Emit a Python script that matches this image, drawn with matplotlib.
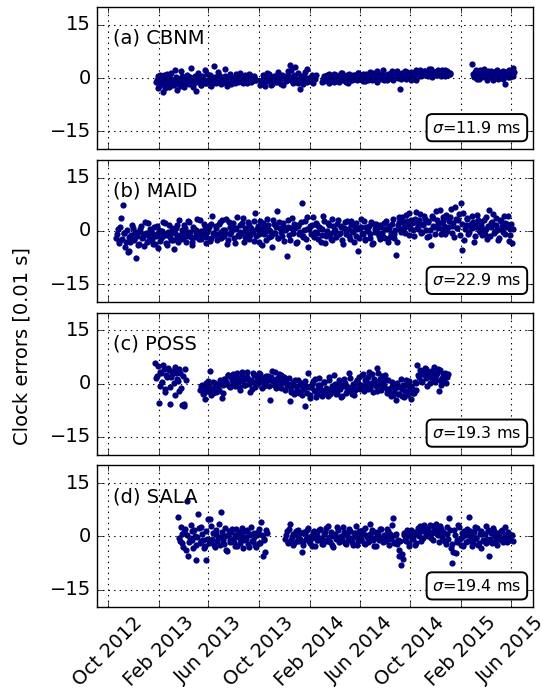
import numpy as np
import matplotlib
matplotlib.use('Agg')
import matplotlib.pyplot as plt
import matplotlib.dates as mdates

# sample spacing of the plotted clock-error points (days);
# the second set of each station sits half a step later
step_days = 4
half_step = 2

stations = ["(a) CBNM", "(b) MAID", "(c) POSS", "(d) SALA"]
sigmas = ["11.9", "22.9", "19.3", "19.4"]

# CBNM, four segments
cbnm_starts = ["2013-01-25", "2013-10-04", "2014-03-02", "2015-02-27"]
cbnm_vals = [
    [-1.2, 0.5, -2.1, -0.8, -3.9, 0.9, -1.5, -0.3, -2.6, 1.4, -0.9, -1.8, 0.2, -3.2, -0.6, 1.9, -1.1, -2.4, 0.4, -0.7,
     -1.6, 2.8, -0.2, -1.3, -3.6, 0.1, -0.9, -2.0, 0.7, -0.4, -1.4, 1.1, -0.8, -1.9, 0.3, 3.3, -0.5, -1.2, 0.8, -1.7,
     -0.3, -1.0, 0.6, -2.2, -0.6, 1.2, -0.9, -0.1, -1.5, 0.4, -0.7, 1.6, -1.1, -0.2, 0.5, -1.3, -0.4, 0.9, -0.8, 0.2, -0.6],
    [-1.8, -0.4, 0.6, -2.3, 1.5, -0.9, -0.2, -1.6, 0.3, -0.7, 1.0, -1.2, -0.1, 0.8, -1.9, 0.4, -0.5, 2.1, 3.6, -0.8,
     0.2, 3.1, -0.3, -1.4, -3.0, 0.7, -0.6, 1.8, -1.1, 0.1, -0.4, 0.9, -1.3, -0.2],
    [-1.1, 0.6, -0.5, 0.9, -1.4, 0.2, -0.3, 1.3, -0.8, 0.4, -1.0, 0.1, 1.6, -0.6, -0.2, 0.8, -1.3, 0.3, -0.4, 0.5,
     0.9, -0.6, 1.4, 0.2, -0.3, 1.1, -0.9, 0.6, 0.0, 1.7, -0.4, 0.8, 0.3, -1.2, 1.0, 0.5, -0.1, 2.2, 0.4, -0.5,
     1.2, 0.3, 1.9, -0.4, 0.9, 1.5, 0.1, -3.1, 1.3, 0.6, 2.0, -0.2, 1.1, 0.7, 1.8, 0.2, 1.4, -0.6, 1.0, 2.3,
     1.5, 0.8, 2.1, 1.2, 0.6, 1.9, 2.6, 1.1, 1.7, 0.9, 2.2, 1.4, 0.7, 1.8, 2.4, 1.3, 1.0, 1.6],
    [4.0, 0.6, 1.8, -0.3, 1.2, 2.3, 0.4, 1.5, 0.9, -0.5, 2.0, 1.1, 0.2, 1.7, 0.8, 2.4, -0.2, 1.3, 0.5, 1.9,
     -1.6, 1.0, 2.1, 0.3, 1.4, 3.0],
]
cbnm_vals_b = [
    [-0.4, -2.7, 0.8, -1.6, -0.2, -2.9, 1.3, -1.0, 0.1, -1.9, -0.6, 2.2, -1.4, -0.3, -2.2, 0.6, -0.8, -1.7, 1.0, -1.2,
     0.3, -0.9, -2.5, 0.5, -1.1, 1.5, -0.4, -1.8, -0.1, 2.4, -1.3, -0.5, 0.9, -2.1, -0.7, 0.2, -1.5, 1.8, -0.6, 0.4,
     -1.2, 2.5, -0.2, -0.9, 0.7, -1.6, 0.1, -0.5, 1.3, -1.0, -0.3, 0.6, -1.4, 0.9, -0.1, -0.7, 1.1, -1.1, 0.0, 0.5, -0.4],
    [-0.7, 0.9, -1.5, 0.1, -0.6, 1.3, -2.0, -0.3, 0.5, -1.1, 1.7, -0.4, -1.6, 0.6, 0.0, -0.9, 1.2, -0.2, 2.4, -1.3,
     0.8, -0.5, 1.5, -0.8, 0.3, -1.7, 0.7, -0.1, 2.6, -0.6, 0.4, -1.0, 0.2, 0.9],
    [-0.3, -0.9, 0.7, -0.1, 1.1, -0.7, 0.4, -1.2, 0.9, -0.4, 0.2, 1.4, -0.6, 0.5, -1.0, 0.1, 1.2, -0.5, 0.8, -0.2,
     0.4, 1.6, -0.2, 0.7, -0.8, 0.3, 1.3, -0.5, 0.9, 0.1, 1.5, -0.3, 0.6, 2.0, -0.1, 0.8, 1.2, -0.6, 0.5, 1.0,
     0.7, 1.6, -0.1, 1.1, 0.4, 2.1, 0.8, -0.3, 1.4, 0.2, 1.0, 1.7, 0.5, -0.4, 1.3, 0.9, 2.2, 0.3, 1.5, 0.7,
     1.2, 2.0, 0.9, 1.6, 2.5, 1.0, 0.4, 1.8, 1.3, 2.1, 0.8, 1.5, 2.3, 1.1, 0.6, 1.9, 1.4, 1.2],
    [1.3, 0.2, 2.2, 0.8, -0.1, 1.6, 1.0, 2.6, 0.3, 1.4, 0.7, 1.9, -0.4, 1.2, 2.0, 0.5, 1.1, 1.8, -0.2, 0.9,
     1.5, 0.4, 2.3, 1.0, 0.6, 1.7],
]

# MAID, one continuous segment
maid_starts = ["2012-10-21"]
maid_vals = [[
    -1.9, 0.4, -2.8, 3.6, 7.4, -0.7, -3.1, -6.0, -5.8, -1.2, 0.9, -2.4, -7.5, -0.3, -3.6, 1.5, -1.8, -4.2, -0.6, 2.1,
    -2.5, -0.1, -3.8, 1.2, -1.4, -4.9, 0.3, -2.0, 2.6, -0.8, -3.3, -1.1, 1.8, -2.7, -0.4, -5.1, 0.7, -1.6, 3.0, -2.2,
    -0.9, 1.6, -3.0, -0.2, 2.4, -1.7, -4.1, 0.5, -0.6, 3.3, -2.3, 0.1, -1.0, 2.0, -3.5, -0.3, 1.1, -1.9, 4.2, -0.7,
    0.8, -2.6, 1.9, -0.4, 3.1, -1.3, 0.2, -3.7, 2.5, -0.9, 1.3, -2.0, 0.6, 4.0, -1.5, -0.2, 2.2, -3.2, 0.9, -0.6,
    1.7, -1.1, 0.3, -2.8, 5.1, 0.6, -0.8, 2.7, -3.9, 1.0, -0.3, 3.4, -1.6, 0.1, -4.4, 2.0, -0.5, 5.5, -2.1, 0.8,
    -1.4, 2.3, 0.2, -7.0, 1.1, -2.5, 3.7, -0.6, 0.9, -3.1, 1.6, -0.2, 7.8, -1.8, 2.8, 0.4, -4.6, 1.3, -0.9, 3.9,
    -0.4, 1.8, -2.3, 0.7, -1.2, 4.3, -3.4, 0.1, 2.1, -0.8, -2.6, 1.4, 0.3, -1.7, 3.2, -0.5, 1.0, -3.8, 2.4, -1.0,
    0.6, -2.2, 2.9, -0.3, 1.5, -1.4, -5.7, 0.8, 3.5, -0.9, -2.7, 1.2, 0.0, -1.9, 2.6, -3.3, 0.5, 1.9, -0.7, -2.4,
    1.1, -1.6, 0.4, 2.7, -3.0, 0.9, -0.5, 3.3, -2.1, -6.8, 1.8, 3.9, -0.2, 2.5, 0.7, 4.6, 1.3, -1.1, 3.0, 0.2,
    2.4, 5.2, 0.6, 3.1, -0.7, 1.9, 4.1, 0.3, 2.8, -1.4, -4.0, 3.6, 1.2, 5.7, 0.8, 2.2, -0.9, 3.9, 1.5, 4.4,
    0.1, 2.9, 6.1, 1.3, -1.8, 3.4, 0.7, 4.8, 8.0, -5.4, -2.6, 1.6, 3.7, -0.4, 2.0, 0.9, -3.0, 2.6, 4.5, 0.3,
    1.8, -1.2, 3.0, 0.5, -2.3, 6.0, 1.1, 2.4, -0.6, 3.6, 0.2, -1.9, 2.7, 1.4, 4.3, -0.8, 1.9, -2.8, 0.6, -3.5,
]]
maid_vals_b = [[
    -0.8, -3.4, 1.1, -2.2, -0.5, -4.6, 0.2, -1.7, -3.0, 1.8, -2.6, -0.3, -1.5, -4.0, 0.6, -2.0, -0.9, 2.4, -3.1, -1.2,
    0.5, -2.3, -1.0, -3.6, 1.4, -0.6, -2.8, 0.1, -1.4, 2.2, -3.9, -0.2, -1.8, 0.9, -2.5, -0.7, 1.6, -3.2, -1.1, 0.3,
    -2.1, 0.8, -1.3, 2.7, -0.4, -3.0, 1.2, -1.8, 0.3, -0.9, 3.1, -2.4, -0.1, 1.5, -1.6, 0.6, -2.9, 2.0, -0.5, -1.2,
    1.4, -0.8, 2.6, -1.9, 0.3, -0.5, 3.4, -2.7, 1.0, -0.2, 2.1, -3.3, 0.7, -1.2, 1.8, -0.6, 3.7, -1.6, 0.1, 2.4,
    -2.2, 0.9, -0.4, 2.9, -1.5, 1.3, -3.0, 0.4, 2.2, -0.9, -2.5, 1.7, 0.2, -1.3, 3.2, -0.7, 1.0, -2.0, 2.6, -0.3,
    1.2, -2.8, 0.5, 3.0, -1.1, 0.8, -0.5, 2.0, -3.5, 1.5, -0.8, 2.6, -1.4, 0.3, -2.2, 3.9, 0.6, -0.9, 1.8, -1.7,
    2.3, -0.6, 1.1, -3.0, 0.4, 2.7, -1.5, -0.2, 1.6, -2.4, 3.3, 0.0, -1.1, 2.0, -0.8, 1.3, -2.7, 0.7, -0.4, 2.9,
    -1.3, 1.8, -0.1, -3.1, 2.2, 0.5, -1.9, 1.0, -0.6, 2.8, -2.3, 0.3, 1.4, -1.0, -3.6, 2.0, -0.3, 0.9, -1.5, 1.6,
    -0.5, 2.3, -2.0, 0.6, 1.4, -1.7, 2.0, -0.9, 0.3, -3.2, 2.6, 0.4, 3.8, 1.1, -0.6, 2.9, 5.0, 0.7, 2.2, -1.3,
    3.5, 0.9, 2.0, 4.9, -0.3, 1.6, 3.3, -1.8, 2.5, 0.2, 4.2, 1.4, -0.8, 3.0, 1.9, 5.9, 0.5, 2.7, -1.0, 3.8,
    1.1, 4.0, -0.5, 2.3, 6.8, 0.8, 3.1, -1.1, 2.0, 5.1, 0.4, 3.3, -0.9, 1.5, 4.1, 2.5, -1.4, 1.0, 3.2, -0.2,
    2.5, 0.4, -0.8, 3.8, 1.3, -1.5, 2.1, 4.8, 0.0, 1.7, -2.6, 3.1, 0.6, -0.4, 2.3, 1.0, 4.1, -1.1, 2.0, 0.5,
]]

# POSS, two segments
poss_starts = ["2013-01-24", "2013-05-12"]
poss_vals = [
    [5.8, 2.1, -5.4, 3.4, 0.6, 4.2, -1.5, 1.8, 3.9, -5.7, 2.6, 0.2, 4.6, 1.3, -2.0, 3.1, -6.1, -5.6, 4.0],
    [-1.8, -0.4, -2.5, -4.3, -0.9, 0.8, 3.5, -1.6, -2.7, 0.2, -1.1, -2.2, 1.1, -4.0, -0.5, 1.4, -0.2, 2.3, -1.0, 0.9,
     2.6, -0.6, 1.7, 0.3, -1.8, 3.4, 0.8, -0.3, 2.0, 1.2, -2.4, 0.5, 3.0, -0.9, 1.5, 0.1, 2.8, -1.3, 0.7, 1.9,
     -0.2, 2.2, -4.5, 1.0, 0.4, 3.3, -1.1, 1.6, -0.5, 2.5, 0.6, -1.7, 1.3, -0.1, -5.0, -1.9, 0.5, -2.6, -0.8, 1.1,
     -2.3, 0.2, -1.4, -6.4, -0.6, 2.9, -3.1, -1.0, 0.7, -2.0, -3.8, -0.3, 1.6, -1.7, -2.8, 0.4, -1.2, -3.5, 0.9, -2.2,
     -0.7, 2.4, -2.9, -1.3, 0.1, -3.9, -0.4, 1.2, -2.5, -1.0, 3.0, -1.8, -0.2, -3.3, 0.6, -1.1, 1.9, -0.5, 2.7, -2.0,
     0.8, -1.5, 3.3, 0.3, -2.4, 1.4, -0.8, 4.4, 0.0, -1.9, 2.1, -0.6, 1.0, -2.7, -1.4, -3.5, 0.4, -2.3, -4.5, -0.9,
     -2.8, 1.2, -1.6, -3.9, -0.5, -2.2, 0.7, -4.2, -1.1, -2.6, 0.3, 5.3, 1.8, 3.4, 0.6, 2.7, 4.1, -0.8, 2.2, 3.6,
     1.3, 4.6, 0.9, 2.9, -2.2, 3.8, 1.7, 0.4, 3.1, 2.0],
]
poss_vals_b = [
    [1.6, 4.9, -0.6, 3.0, 5.2, -2.3, 2.4, 4.4, -0.9, 1.9, 3.6, -3.1, 2.9, 0.8, 4.1, -1.2, 2.2, -6.3, 1.0],
    [-0.6, -2.9, -1.4, 0.3, -2.0, -0.8, -3.1, 0.6, -1.2, -2.4, -0.3, -1.7, 0.8, -2.6, 1.2, 0.4, 2.5, -0.7, 1.8, -0.2,
     1.4, 0.2, 2.9, -1.0, 0.9, 2.1, -0.4, 1.7, 3.2, 0.0, 1.1, -1.5, 2.4, 0.6, -0.2, 3.0, 1.3, 0.4, -0.8, 2.2,
     0.9, -0.7, 1.8, 3.6, -0.3, 1.2, 0.1, 2.7, -1.2, 0.8, 2.0, 0.3, -0.6, 1.5, -2.4, -0.4, -3.0, 0.9, -1.8, -2.7,
     -0.5, -3.3, -1.6, 0.8, -2.5, -0.9, -4.1, -0.1, -1.9, 1.4, -2.8, -1.1, -0.4, -3.6, 0.5, -2.2, -1.4, 2.0, -3.0, -0.7,
     -1.9, -0.2, -2.6, 0.9, -1.5, -3.4, -0.8, 0.3, -2.1, -1.2, 1.6, -2.9, -0.6, -1.7, 1.1, 0.3, -1.5, 2.4, -0.8, 0.9,
     -0.4, 1.9, -1.1, 2.7, -0.2, 0.6, -2.0, 3.1, 1.2, -0.9, 0.4, 2.3, -1.6, 0.9, -2.5, -0.8, -3.2, -1.3, 0.2, -2.9,
     -1.0, -3.6, -0.3, -2.0, 1.0, -3.1, -1.4, -0.6, -2.7, 0.5, -1.8, 2.4, 3.9, 0.8, 2.6, 4.4, 1.5, 3.0, 0.2, 2.1,
     3.3, 0.6, 2.5, 4.0, 1.1, -0.4, 2.8, 1.9, 0.1, 2.6],
]

# SALA, two segments
sala_starts = ["2013-03-20", "2013-12-03"]
sala_vals = [
    [5.5, -1.2, 0.8, -2.9, 2.1, 10.0, -5.4, -0.5, 1.6, -3.4, 0.2, -6.6, 6.3, -1.8, 2.7, -0.9, -2.6, -6.6, 5.0, 4.8,
     -1.4, 0.9, -3.1, 1.8, -0.2, -2.3, 7.0, -1.0, 2.4, -3.7, 0.5, -1.6, 1.3, -0.7, -2.8, 2.0, -0.3, -1.9, 0.8, -3.2,
     1.5, -0.6, -2.2, 0.4, 2.6, -1.3, -0.1, -3.0, 1.1, -2.0, 4.0, -5.4, -0.8, 1.7],
    [-0.8, 1.4, -1.9, 3.6, -0.3, -2.4, 0.6, -1.2, 1.9, -0.6, -4.3, -1.5, 0.9, -0.1, 2.5, -1.8, -0.4, 1.1, -2.7, 0.3,
     -1.0, 2.2, -0.5, -2.1, 1.3, -0.9, 3.0, -1.6, 0.2, -2.9, 0.8, -0.3, 1.7, -1.3, -0.7, 2.6, -2.0, 0.4, -1.1, 1.5,
     -0.6, -2.5, 0.9, 2.9, -1.4, 0.1, -0.8, 1.8, -2.2, 0.5, -1.7, 3.4, -0.2, -1.0, 1.2, -2.8, 0.7, -0.4, 2.0, -1.5,
     0.3, -1.1, 1.6, -2.3, -0.5, 5.2, -1.8, 0.6, -0.9, -5.4, -8.0, -6.5, 1.0, -1.4, 0.2, -2.6, 1.9, -0.7, 0.4, -1.9,
     2.4, 0.1, -1.2, 1.7, 3.3, 0.5, 2.1, 1.2, -0.4, 2.8, 1.5, 3.6, 0.3, -1.6, 2.2, -0.9, 1.0, -2.1, 0.6, 5.3,
     -3.4, -7.5, 1.8, -4.6, -1.0, 2.7, -2.3, -0.2, 1.4, -1.7, 0.5, 5.5, -0.8, -2.6, 1.1, -0.4, 2.3, -1.9, -3.2, 0.7,
     -1.3, 3.0, -0.6, -5.4, 0.9, -1.8, 1.5, -0.3, -2.4, 0.4, -1.0, 1.7, -0.7, 2.7, -1.5, 0.2, -0.9, 0.5],
]
sala_vals_b = [
    [-0.4, 2.6, -2.0, 1.2, -3.8, 0.4, -1.5, 3.1, -0.9, 1.9, -2.5, -0.1, 2.3, -1.2, 0.6, -3.3, 1.5, -0.6, -1.9, 2.8,
     -0.8, -2.4, 0.7, -1.3, 3.4, -0.3, 1.1, -2.1, 0.2, -4.2, 1.6, -0.9, 2.2, -1.7, 0.4, -2.6, 1.3, -0.5, 2.5, -1.1,
     -0.2, 1.8, -3.0, 0.6, -1.4, 1.0, -2.3, 0.3, 2.1, -1.8, 0.5, -1.0, -4.4, 0.9],
    [0.5, -1.5, 2.0, -0.9, 0.7, -2.0, 1.6, -0.2, -1.3, 0.9, -2.3, 1.2, -0.6, 1.9, -1.4, 0.2, -2.6, 1.4, -0.3, -1.1,
     1.8, -0.7, -2.2, 0.6, 2.3, -1.2, -0.1, 1.1, -2.5, 0.4, -0.8, 2.7, -1.7, 0.1, -0.6, 1.3, -2.1, 0.8, 2.0, -0.4,
     -1.6, 0.9, -0.3, -2.4, 1.5, -0.9, 0.6, -1.8, 2.4, -0.2, -1.3, 0.7, 1.9, -2.7, -0.5, 1.0, -1.1, 2.2, -0.7, 0.3,
     -1.4, 2.1, -0.6, 0.8, 3.3, -1.6, 0.4, -2.2, -3.8, -1.2, -5.0, 0.5, -0.9, 1.7, -1.8, 0.6, -0.4, 1.2, -2.4, 0.9,
     0.7, 3.0, 1.4, -0.5, 2.5, 1.8, 0.2, 3.1, 1.0, -0.9, 2.0, 0.6, 1.6, 2.9, -0.2, 1.3, -1.3, 2.6, -0.6, 1.9,
     -2.2, -4.4, 0.4, -1.6, 3.1, -0.7, 1.0, -2.8, 0.3, 2.0, -1.2, 1.5, 0.0, -1.9, 2.6, -0.5, -2.4, 0.8, 1.6, -1.0,
     0.6, -2.0, 1.8, -0.8, -1.5, 2.3, 0.2, -1.1, 0.9, -0.4, 1.4, -1.6, 0.5, -0.2, 1.1, -0.7, 0.3, -1.2],
]

all_starts = [cbnm_starts, maid_starts, poss_starts, sala_starts]
all_vals = [cbnm_vals, maid_vals, poss_vals, sala_vals]
all_vals_b = [cbnm_vals_b, maid_vals_b, poss_vals_b, sala_vals_b]

plt.style.use('classic')
plt.rcParams['font.family'] = 'DejaVu Sans'
plt.rcParams['mathtext.fontset'] = 'dejavusans'

fig, axes = plt.subplots(4, 1, sharex=True, figsize=(5.43, 6.92), dpi=100, facecolor='white')
fig.subplots_adjust(left=0.178, right=0.982, top=0.9895, bottom=0.1224, hspace=0.077)

for ax, name, sig, starts, vals, vals_b in zip(axes, stations, sigmas, all_starts, all_vals, all_vals_b):
    for s, v, vb in zip(starts, vals, vals_b):
        t = np.datetime64(s) + np.arange(len(v)) * np.timedelta64(step_days, 'D')
        tb = np.datetime64(s) + np.timedelta64(half_step, 'D') + np.arange(len(vb)) * np.timedelta64(step_days, 'D')
        ax.plot(t, v, 'o', color='#000080', ms=4.5, mew=0)
        ax.plot(tb, vb, 'o', color='#000080', ms=4.5, mew=0)
    ax.set_ylim(-20, 20)
    ax.set_yticks([-15, 0, 15])
    ax.grid(True, color='k', linestyle=':', linewidth=0.8)
    ax.tick_params(labelsize=14)
    ax.text(0.037, 0.78, name, transform=ax.transAxes, fontsize=14, ha='left', va='center')
    ax.text(0.871, 0.151, r'$\sigma$=' + sig + ' ms', transform=ax.transAxes, fontsize=11.5,
            ha='center', va='center',
            bbox=dict(boxstyle='round,pad=0.35', fc='white', ec='k', lw=1.4))

axes[-1].set_xlim(np.datetime64('2012-09-04'), np.datetime64('2015-07-25'))
axes[-1].xaxis.set_major_locator(mdates.MonthLocator(bymonth=[2, 6, 10]))
axes[-1].xaxis.set_major_formatter(mdates.DateFormatter('%b %Y'))
for lab in axes[-1].get_xticklabels():
    lab.set_rotation(45)
    lab.set_ha('center')

fig.text(0.04, 0.5, 'Clock errors [0.01 s]', rotation=90, ha='center', va='center', fontsize=14)

fig.savefig('out.png', dpi=100, facecolor='white')
